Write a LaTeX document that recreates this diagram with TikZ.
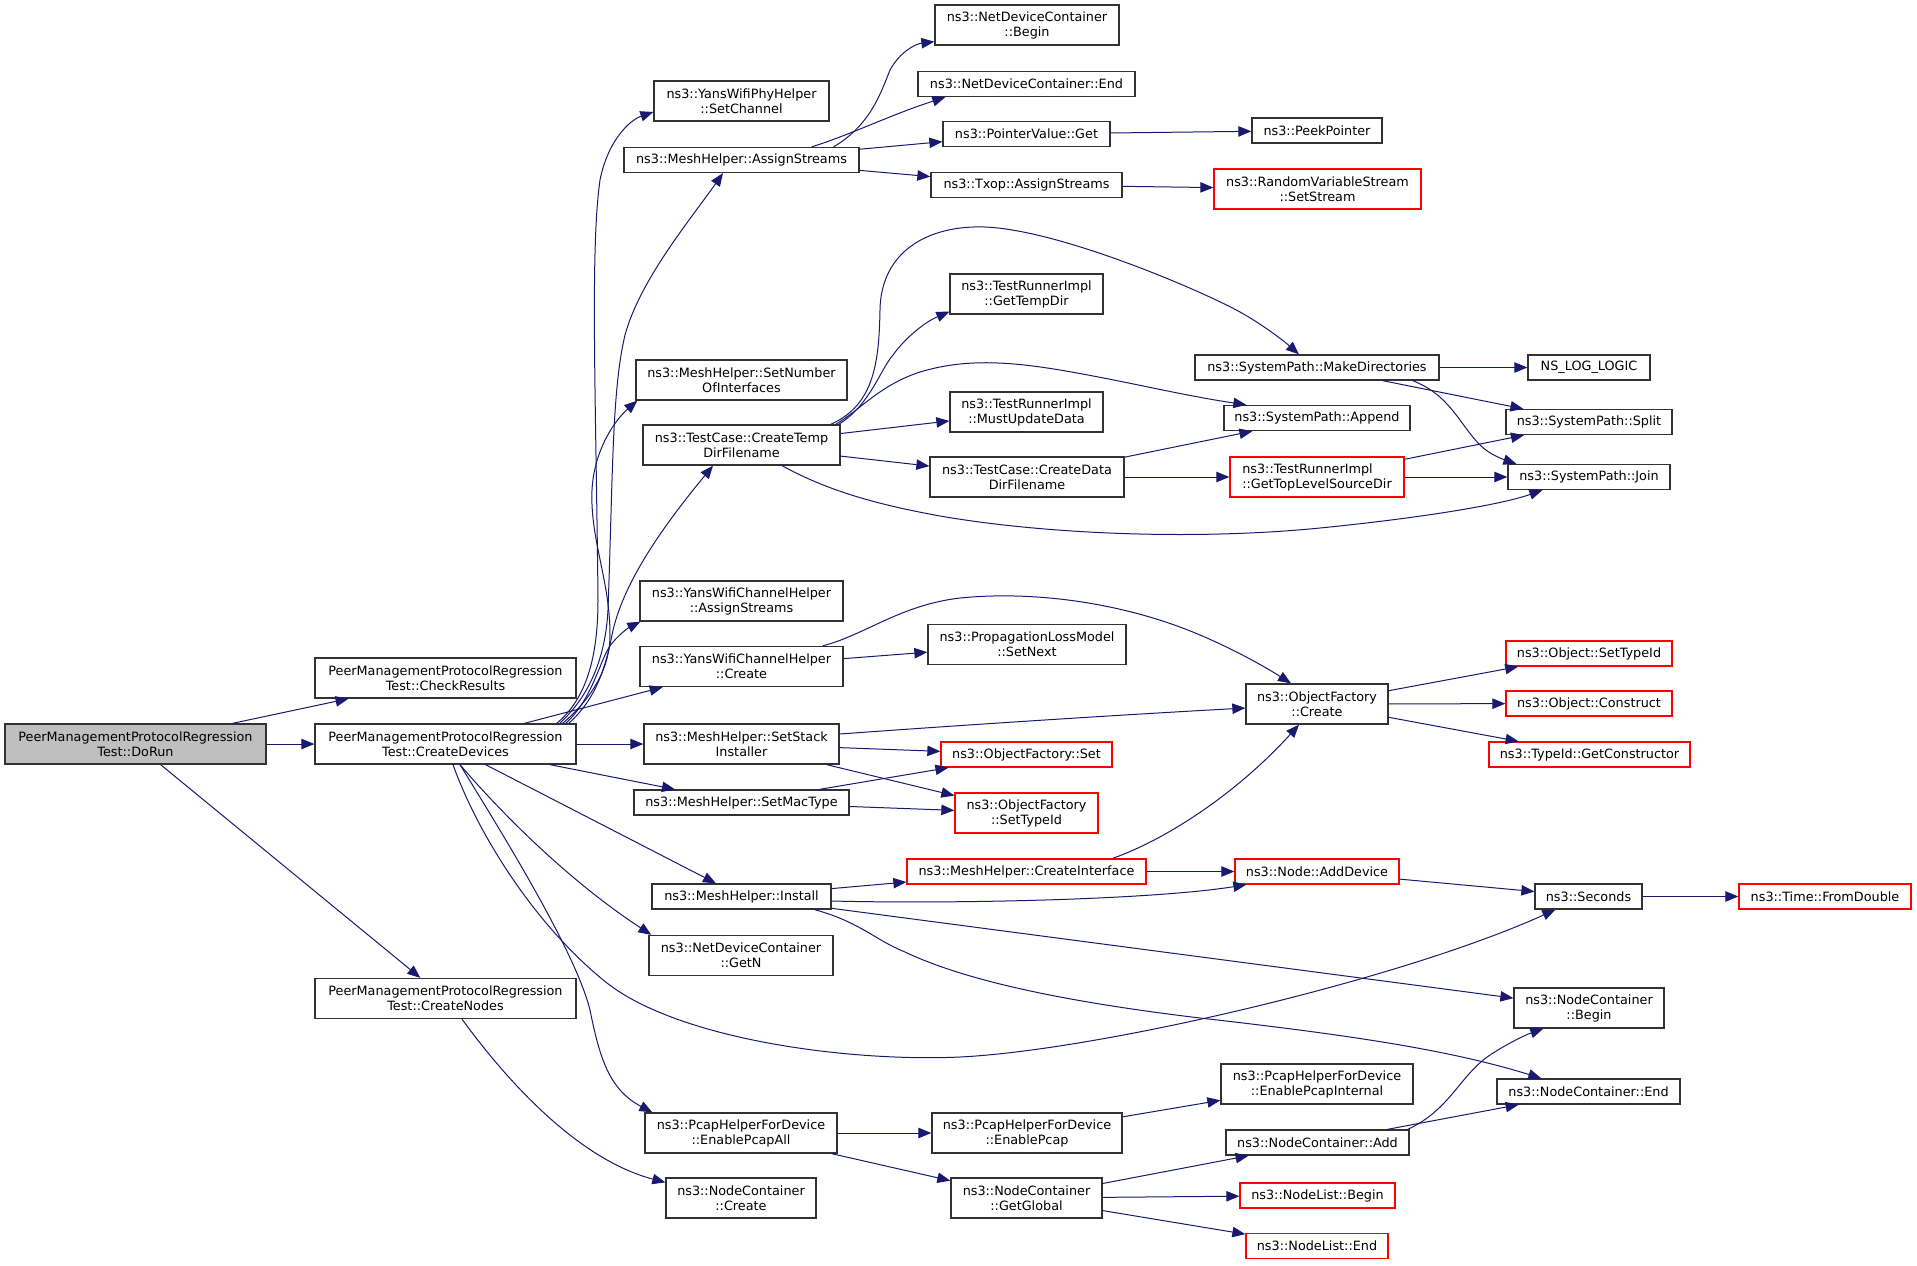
\documentclass[tikz,border=0pt]{standalone}
\usepackage{fontspec}
\setmainfont{DejaVu Sans}
\usetikzlibrary{arrows.meta,calc}
\definecolor{nodegray}{RGB}{191,191,191}
\definecolor{edgeblue}{RGB}{25,25,112}
\definecolor{redline}{RGB}{255,0,0}
\definecolor{boxline}{RGB}{50,50,50}
\tikzset{
  box/.style={draw=boxline, line width=0.65pt, fill=white, inner sep=0pt, align=center,
    font=\fontsize{6.4pt}{7.5pt}\selectfont, minimum height=12.5pt},
  rbox/.style={box, draw=redline},
  two/.style={minimum height=20pt},
  bw/.style={minimum width=#1*0.5pt},
  call/.style={draw=edgeblue, line width=0.5pt, -{Triangle[length=6.5pt,width=5.2pt]}},
}
\begin{document}
\begin{tikzpicture}[x=0.5pt,y=-0.5pt]
\fill[white] (0,0) rectangle (1917,1265);
\useasboundingbox (0,0) rectangle (1917,1265);

% column 1-2
\node[box,two,fill=nodegray,bw=261] (dorun) at (135.5,744) {PeerManagementProtocolRegression\\Test::DoRun};
\node[box,two,bw=261] (checkres) at (445.5,678) {PeerManagementProtocolRegression\\Test::CheckResults};
\node[box,two,bw=261] (createdev) at (445.5,744) {PeerManagementProtocolRegression\\Test::CreateDevices};
\node[box,two,bw=261] (createnodes) at (445.5,998.5) {PeerManagementProtocolRegression\\Test::CreateNodes};

% column 3
\node[box,two,bw=175] (setchannel) at (741.5,101) {ns3::YansWifiPhyHelper\\::SetChannel};
\node[box,bw=235] (meshassign) at (741.5,160) {ns3::MeshHelper::AssignStreams};
\node[box,two,bw=211] (setnumif) at (741.5,380) {ns3::MeshHelper::SetNumber\\OfInterfaces};
\node[box,two,bw=197] (ctempdir) at (741.5,445) {ns3::TestCase::CreateTemp\\DirFilename};
\node[box,two,bw=203] (yansassign) at (741.5,601) {ns3::YansWifiChannelHelper\\::AssignStreams};
\node[box,two,bw=203] (yanscreate) at (741.5,666.5) {ns3::YansWifiChannelHelper\\::Create};
\node[box,two,bw=195] (setstack) at (741.5,744) {ns3::MeshHelper::SetStack\\Installer};
\node[box,bw=215] (setmac) at (741.5,802.5) {ns3::MeshHelper::SetMacType};
\node[box,bw=179] (install) at (741.5,896.5) {ns3::MeshHelper::Install};
\node[box,two,bw=184] (getn) at (741,955.5) {ns3::NetDeviceContainer\\::GetN};
\node[box,two,bw=192] (pcapall) at (741,1133) {ns3::PcapHelperForDevice\\::EnablePcapAll};
\node[box,two,bw=150] (ncreate) at (741,1198) {ns3::NodeContainer\\::Create};

% column 4
\node[box,two,bw=184] (ndcbegin) at (1027,25) {ns3::NetDeviceContainer\\::Begin};
\node[box,bw=217] (ndcend) at (1026.5,84) {ns3::NetDeviceContainer::End};
\node[box,bw=167] (pvget) at (1026.5,134) {ns3::PointerValue::Get};
\node[box,bw=191] (txop) at (1026.5,185) {ns3::Txop::AssignStreams};
\node[box,two,bw=153] (gettempdir) at (1026.5,294) {ns3::TestRunnerImpl\\::GetTempDir};
\node[box,two,bw=153] (mustupdate) at (1026.5,412) {ns3::TestRunnerImpl\\::MustUpdateData};
\node[box,two,bw=194] (cdatadir) at (1027,477) {ns3::TestCase::CreateData\\DirFilename};
\node[box,two,bw=198] (setnext) at (1027,644.5) {ns3::PropagationLossModel\\::SetNext};
\node[rbox,bw=171] (ofset) at (1026.5,754.5) {ns3::ObjectFactory::Set};
\node[rbox,two,bw=143] (ofsettypeid) at (1026.5,813) {ns3::ObjectFactory\\::SetTypeId};
\node[rbox,bw=239] (createif) at (1026.5,871.5) {ns3::MeshHelper::CreateInterface};
\node[box,two,bw=190] (pcap) at (1027,1133) {ns3::PcapHelperForDevice\\::EnablePcap};
\node[box,two,bw=151] (getglobal) at (1026.5,1198) {ns3::NodeContainer\\::GetGlobal};

% column 5
\node[box,bw=130] (peek) at (1317,130.5) {ns3::PeekPointer};
\node[rbox,two,bw=207] (setstream) at (1317.5,189) {ns3::RandomVariableStream\\::SetStream};
\node[box,bw=244] (makedirs) at (1317,367.5) {ns3::SystemPath::MakeDirectories};
\node[box,bw=186] (append) at (1317,418) {ns3::SystemPath::Append};
\node[rbox,two,bw=174,align=left] (toplevel) at (1317,477) {ns3::TestRunnerImpl\\::GetTopLevelSourceDir};
\node[box,two,bw=142] (ofcreate) at (1317,704) {ns3::ObjectFactory\\::Create};
\node[rbox,bw=164] (adddevice) at (1317,871.5) {ns3::Node::AddDevice};
\node[box,two,bw=192] (pcapint) at (1317,1084) {ns3::PcapHelperForDevice\\::EnablePcapInternal};
\node[box,bw=183] (ncadd) at (1317.5,1142.5) {ns3::NodeContainer::Add};
\node[rbox,bw=155] (nlbegin) at (1317.5,1195.5) {ns3::NodeList::Begin};
\node[rbox,bw=142] (nlend) at (1317,1246) {ns3::NodeList::End};

% column 6
\node[box,bw=122] (nslog) at (1589,367.5) {NS\_LOG\_LOGIC};
\node[box,bw=166] (split) at (1589,422) {ns3::SystemPath::Split};
\node[box,bw=162] (join) at (1589,477) {ns3::SystemPath::Join};
\node[rbox,bw=166] (objsettypeid) at (1589,653.5) {ns3::Object::SetTypeId};
\node[rbox,bw=166] (construct) at (1589,703.5) {ns3::Object::Construct};
\node[rbox,bw=201] (getctor) at (1589.5,754.5) {ns3::TypeId::GetConstructor};
\node[box,bw=107] (seconds) at (1588.5,896.5) {ns3::Seconds};
\node[box,two,bw=150] (ncbegin) at (1589,1008) {ns3::NodeContainer\\::Begin};
\node[box,bw=183] (ncend) at (1588.5,1091.5) {ns3::NodeContainer::End};
\node[rbox,bw=172] (fromdouble) at (1825,896.5) {ns3::Time::FromDouble};

% edges from DoRun
\draw[call] (dorun) -- (checkres);
\draw[call] (dorun) -- (createdev);
\draw[call] (dorun) -- (createnodes);

% edges from CreateDevices
\draw[call] ($(createdev.north east)+(-20,0)$) .. controls (585,700) and (598,660) .. (598,600) .. controls (596,400) and (590,250) .. (600,180) .. controls (608,140) and (630,120) .. ($(setchannel.west)+(0,11)$);
\draw[call] ($(createdev.north east)+(-17,0)$) .. controls (585,700) and (605,665) .. (608,610) .. controls (613,470) and (612,390) .. (625,335) .. controls (640,280) and (690,220) .. ($(meshassign.south)+(-18.5,0)$);
\draw[call] ($(createdev.north east)+(-14,0)$) .. controls (590,700) and (610,670) .. (610,635) .. controls (610,580) and (590,540) .. (592,490) .. controls (594,450) and (615,420) .. ($(setnumif.south west)+(2,0)$);
\draw[call] ($(createdev.north east)+(-8,0)$) .. controls (595,700) and (605,670) .. (612,635) .. controls (622,585) and (660,530) .. ($(ctempdir.south)+(-28.5,0)$);
\draw[call] ($(createdev.north east)+(-11,0)$) .. controls (592,700) and (600,660) .. (610,646) .. controls (617,636) and (628,628) .. ($(yansassign.south west)+(1,0)$);
\draw[call] (createdev) -- (yanscreate);
\draw[call] (createdev) -- (setstack);
\draw[call] (createdev) -- (setmac);
\draw[call] (createdev) -- (install);
\draw[call] ($(createdev.south)+(14.5,0)$) .. controls (490,800) and (560,875) .. ($(getn.north west)+(3,0)$);
\draw[call] ($(createdev.south)+(7.5,0)$) .. controls (480,840) and (540,930) .. (607,983) .. controls (680,1040) and (850,1062) .. (960,1057) .. controls (1100,1050) and (1400,980) .. ($(seconds.south west)+(21,0)$);
\draw[call] ($(createdev.south)+(14.5,0)$) .. controls (500,830) and (575,950) .. (590,1010) .. controls (600,1060) and (610,1090) .. ($(pcapall.north west)+(8,0)$);

% MeshHelper::AssignStreams
\draw[call] ($(meshassign.north east)+(-26,0)$) .. controls (870,125) and (880,95) .. (890,70) .. controls (900,52) and (915,44) .. ($(ndcbegin.south west)+(0,-4)$);
\draw[call] ($(meshassign.north east)+(-48,0)$) .. controls (850,135) and (890,115) .. ($(ndcend.south west)+(28,0)$);
\draw[call] (meshassign) -- (pvget);
\draw[call] (meshassign) -- (txop);
\draw[call] (pvget) -- (peek);
\draw[call] (txop) -- (setstream);

% CreateTempDirFilename
\draw[call] ($(ctempdir.north east)+(-10,0)$) .. controls (875,405) and (879,360) .. (880,310) .. controls (881,250) and (930,225) .. (985,227) .. controls (1060,230) and (1200,290) .. (1240,312) .. controls (1265,326) and (1285,342) .. ($(makedirs.north)+(-18,0)$);
\draw[call] ($(ctempdir.north east)+(-2,0)$) .. controls (870,405) and (880,370) .. (893,355) .. controls (905,338) and (925,322) .. ($(gettempdir.south west)+(0,-3)$);
\draw[call] ($(ctempdir.north east)+(-5,0)$) .. controls (860,410) and (880,385) .. (920,372) .. controls (960,360) and (1000,360) .. (1060,370) .. controls (1130,382) and (1180,395) .. ($(append.north west)+(23,0)$);
\draw[call] (ctempdir) -- (mustupdate);
\draw[call] (ctempdir) -- (cdatadir);
\draw[call] ($(ctempdir.south)+(40.5,0)$) .. controls (830,492) and (880,505) .. (940,516) .. controls (1050,535) and (1200,540) .. (1320,528) .. controls (1420,518) and (1500,505) .. ($(join.south west)+(35,0)$);

% MakeDirectories
\draw[call] (makedirs) -- (nslog);
\draw[call] (makedirs) -- (split);
\draw[call] ($(makedirs.south east)+(-27,0)$) .. controls (1450,395) and (1460,425) .. (1480,445) .. controls (1490,455) and (1505,460) .. ($(join.north west)+(9,0)$);

% CreateDataDirFilename
\draw[call] (cdatadir) -- (append);
\draw[call] (cdatadir) -- (toplevel);
\draw[call] (toplevel) -- (split);
\draw[call] (toplevel) -- (join);

% YansWifiChannelHelper::Create
\draw[call] ($(yanscreate.north east)+(-21,0)$) .. controls (865,635) and (900,605) .. (960,598) .. controls (1040,590) and (1130,605) .. (1200,635) .. controls (1240,652) and (1270,670) .. ($(ofcreate.north)+(-26,0)$);
\draw[call] (yanscreate) -- (setnext);

% ObjectFactory::Create
\draw[call] (ofcreate) -- (objsettypeid);
\draw[call] (ofcreate) -- (construct);
\draw[call] (ofcreate) -- (getctor);

% SetStackInstaller / SetMacType
\draw[call] ($(setstack.east)+(0,-10)$) .. controls (950,726) and (1100,716) .. ($(ofcreate.west)+(0,4)$);
\draw[call] (setstack) -- (ofset);
\draw[call] (setstack) -- (ofsettypeid);
\draw[call] (setmac) -- (ofset);
\draw[call] (setmac) -- (ofsettypeid);

% Install
\draw[call] (install) -- (createif);
\draw[call] ($(install.east)+(0,4.5)$) .. controls (950,904) and (1150,900) .. ($(adddevice.south west)+(12,0)$);
\draw[call] (install) -- (ncbegin);
\draw[call] ($(install.south east)+(-17,0)$) .. controls (860,922) and (875,940) .. (905,952) .. controls (960,978) and (1050,1000) .. (1200,1018) .. controls (1350,1035) and (1450,1050) .. ($(ncend.north west)+(45,0)$);

% CreateInterface, AddDevice, Seconds
\draw[call] ($(createif.north east)+(-34,0)$) .. controls (1170,838) and (1240,790) .. ($(ofcreate.south)+(-18,0)$);
\draw[call] (createif) -- (adddevice);
\draw[call] (adddevice) -- (seconds);
\draw[call] (seconds) -- (fromdouble);

% CreateNodes
\draw[call] ($(createnodes.south)+(16.5,0)$) .. controls (510,1085) and (580,1160) .. ($(ncreate.north west)+(0,5)$);

% Pcap
\draw[call] (pcapall) -- (pcap);
\draw[call] (pcapall) -- (getglobal);
\draw[call] (pcap) -- (pcapint);
\draw[call] (getglobal) -- (ncadd);
\draw[call] (getglobal) -- (nlbegin);
\draw[call] (getglobal) -- (nlend);
\draw[call] ($(ncadd.north east)+(-2,0)$) .. controls (1450,1110) and (1460,1075) .. (1490,1055) .. controls (1505,1045) and (1525,1035) .. ($(ncbegin.south west)+(30,0)$);
\draw[call] (ncadd) -- (ncend);
\end{tikzpicture}
\end{document}
